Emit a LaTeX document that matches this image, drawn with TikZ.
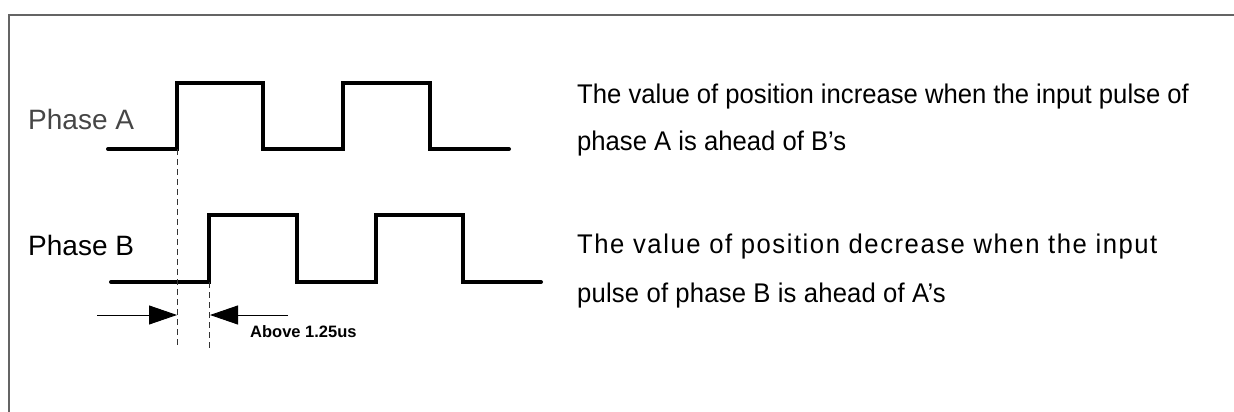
\documentclass[tikz,border=0pt]{standalone}
\usepackage{fontspec}
\setmainfont{Liberation Sans}
\newfontfamily\descfont[FakeStretch=0.95]{Liberation Sans}
\usetikzlibrary{arrows.meta}
\definecolor{FrameGray}{RGB}{100,100,100}
\definecolor{LabelGray}{RGB}{70,70,70}

\begin{document}
\begin{tikzpicture}[x=1pt, y=-1pt,
          wave/.style={line width=4pt, line cap=round, line join=miter, draw=black},
          guide/.style={draw=black!80, line width=0.9pt, dash pattern=on 6pt off 4pt},
          dimarr/.style={draw=black, line width=0.9pt,
                         -{Triangle[length=28pt, width=19pt]}},
          lbl/.style={anchor=base west, inner sep=0pt, font=\fontsize{28}{28}\selectfont},
          desc/.style={anchor=base west, inner sep=0pt,
                       font=\descfont\fontsize{27}{27}\selectfont}
        ]
        \useasboundingbox (0,0) rectangle (1234,412);
        % open frame (top and left only)
        \draw[FrameGray, line width=2pt] (9,412) -- (9,15) -- (1234,15);

        % Phase A
        \node[lbl, text=LabelGray] (laba) at (28,129) {Phase A};
        \coordinate (ra1) at (177,149);
        \draw[wave] (108,149) -- (ra1) -- (177,83) -- (263,83) -- (263,149)
              -- (343,149) -- (343,83) -- (430,83) -- (430,149) -- (509,149);

        % Phase B
        \node[lbl] (labb) at (28,255) {Phase B};
        \coordinate (rb1) at (209,282);
        \draw[wave] (111,282) -- (rb1) -- (209,215) -- (297,215) -- (297,282)
              -- (376,282) -- (376,215) -- (463,215) -- (463,282) -- (541,282);

        % guide lines down from the first rising edges
        \coordinate (ga) at (177,347);
        \coordinate (gb) at (209,348);
        \draw[guide] (ra1) -- (ga);
        \draw[guide] (rb1) -- (gb);

        % minimum phase difference
        \coordinate (ea) at (97,315);
        \coordinate (eb) at (288,315);
        \coordinate (ta) at (177,315);
        \coordinate (tb) at (210,315);
        \draw[dimarr] (ea) -- (ta);
        \draw[dimarr] (eb) -- (tb);
        \node[anchor=base west, inner sep=0pt,
              font=\bfseries\fontsize{16.5}{16.5}\selectfont]
              (mindiff) at (250,337) {Above 1.25us};

        % descriptions
        \node[desc] (inca) at (577,103)
              {The value of position increase when the input pulse of};
        \node[desc] (incb) at (577,150) {phase A is ahead of B’s};
        \node[desc] (deca) at (577,253)
              {\addfontfeature{LetterSpace=5.7}The value of position decrease when the input};
        \node[desc] (decb) at (577,302)
              {\addfontfeature{LetterSpace=0.7}pulse of phase B is ahead of A’s};
      \end{tikzpicture}
\end{document}
